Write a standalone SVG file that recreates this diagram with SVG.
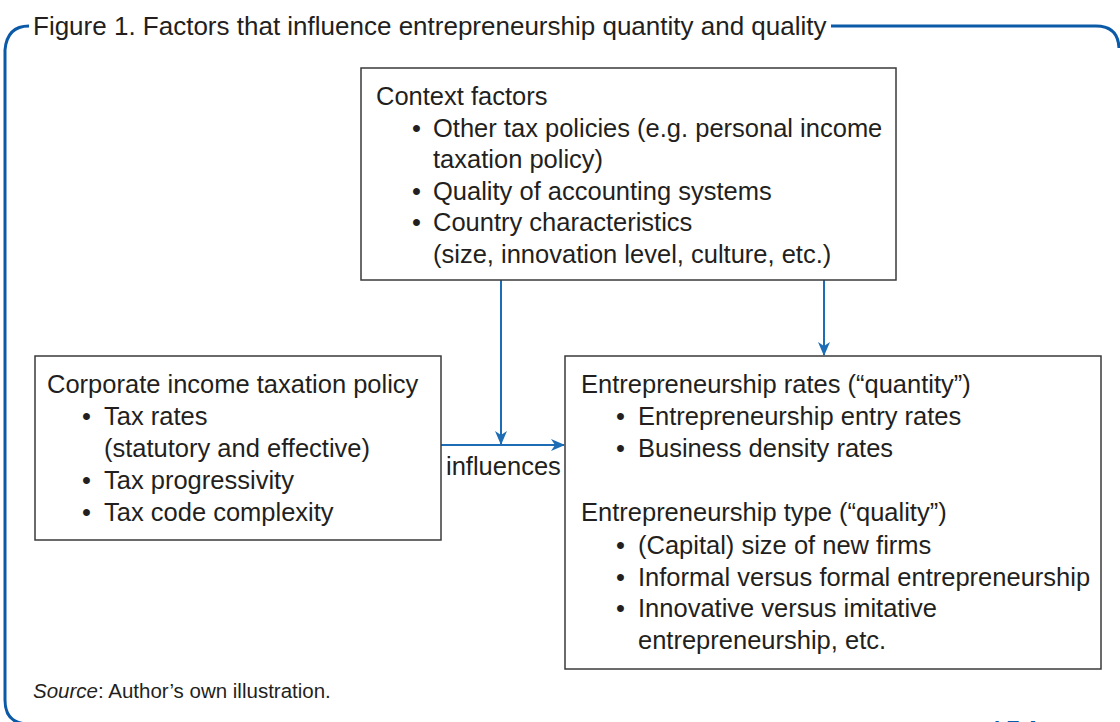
<svg xmlns="http://www.w3.org/2000/svg" width="1120" height="722" viewBox="0 0 1120 722">
<style>
.t{font-family:"Liberation Sans",Arial,sans-serif;font-size:25.5px;fill:#231f20}
.box{fill:#fff;stroke:#3a3a3a;stroke-width:1.5}
.conn{stroke:#1c6db5;stroke-width:2;fill:none}
.frame{stroke:#0b5aa8;stroke-width:3;fill:none}
</style>
<defs>
<marker id="ah" viewBox="0 0 14 12" refX="13" refY="6" markerWidth="14" markerHeight="12" markerUnits="userSpaceOnUse" orient="auto">
<path d="M0,0 L14,6 L0,12 L4,6 Z" fill="#1c6db5"/>
</marker>
</defs>
<rect width="1120" height="722" fill="#fff"/>
<path class="frame" d="M29,26 Q7,26 5,50 L5,700 Q5,724 29,724"/>
<path class="frame" d="M831,26 L1096,26 Q1118,26 1119,48"/>
<text class="t" x="33" y="35" style="font-size:26px">Figure 1. Factors that influence entrepreneurship quantity and quality</text>
<g id="connectors">
<path class="conn" d="M501,280 L501,444" marker-end="url(#ah)"/>
<path class="conn" d="M441,445 L564,445" marker-end="url(#ah)"/>
<path class="conn" d="M824,280 L824,355" marker-end="url(#ah)"/>
<text class="t" x="446" y="475">influences</text>
</g>
<g id="context">
<rect class="box" x="361" y="68" width="535" height="212"/>
<text class="t" x="376" y="105">Context factors</text>
<text class="t" x="412" y="137">•</text><text class="t" x="433" y="137">Other tax policies (e.g. personal income</text>
<text class="t" x="433" y="168">taxation policy)</text>
<text class="t" x="412" y="200">•</text><text class="t" x="433" y="200">Quality of accounting systems</text>
<text class="t" x="412" y="231">•</text><text class="t" x="433" y="231">Country characteristics</text>
<text class="t" x="433" y="263">(size, innovation level, culture, etc.)</text>
</g>
<g id="corporate">
<rect class="box" x="35" y="356" width="406" height="184"/>
<text class="t" x="47" y="393">Corporate income taxation policy</text>
<text class="t" x="82" y="425">•</text><text class="t" x="104" y="425">Tax rates</text>
<text class="t" x="104" y="457">(statutory and effective)</text>
<text class="t" x="82" y="489">•</text><text class="t" x="104" y="489">Tax progressivity</text>
<text class="t" x="82" y="521">•</text><text class="t" x="104" y="521">Tax code complexity</text>
</g>
<g id="entrepreneurship">
<rect class="box" x="565" y="356" width="536" height="313"/>
<text class="t" x="581" y="393">Entrepreneurship rates (“quantity”)</text>
<text class="t" x="616" y="425">•</text><text class="t" x="638" y="425">Entrepreneurship entry rates</text>
<text class="t" x="616" y="457">•</text><text class="t" x="638" y="457">Business density rates</text>
<text class="t" x="581" y="521">Entrepreneurship type (“quality”)</text>
<text class="t" x="616" y="554">•</text><text class="t" x="638" y="554">(Capital) size of new firms</text>
<text class="t" x="616" y="586">•</text><text class="t" x="638" y="586">Informal versus formal entrepreneurship</text>
<text class="t" x="616" y="617">•</text><text class="t" x="638" y="617">Innovative versus imitative</text>
<text class="t" x="638" y="649">entrepreneurship, etc.</text>
</g>
<text class="t" x="33" y="698" style="font-size:20.5px"><tspan font-style="italic">Source</tspan>: Author’s own illustration.</text>
<text x="994" y="736" style="font-family:'Liberation Sans',Arial,sans-serif;font-size:22px;font-weight:bold;fill:#0b5aa8">I Z A</text>
</svg>
